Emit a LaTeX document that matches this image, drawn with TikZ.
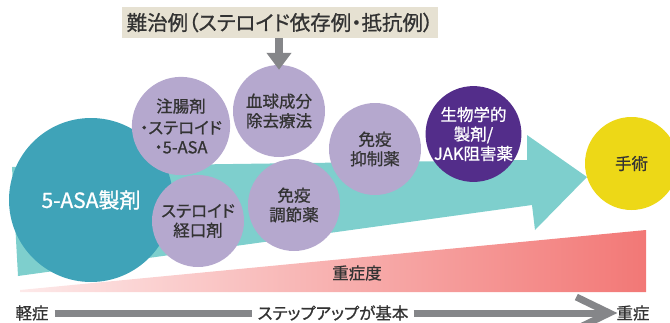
\documentclass[tikz,border=0pt]{standalone}
\usepackage{fontspec}
\setmainfont{Noto Sans CJK JP}[RawFeature=+palt, FakeBold=0.9]
\usetikzlibrary{arrows.meta}

\definecolor{asateal}{HTML}{3FA3B8}
\definecolor{arrowteal}{HTML}{7ECFCD}
\definecolor{lavender}{HTML}{B5A8CE}
\definecolor{bioviolet}{HTML}{532D8A}
\definecolor{opyellow}{HTML}{EDD817}
\definecolor{titlebeige}{HTML}{E6E1D2}
\definecolor{arrowgrey}{HTML}{858689}
\definecolor{txtdark}{HTML}{333333}
\definecolor{pinklight}{HTML}{FDE9E9}
\definecolor{pinkdark}{HTML}{F27876}

\tikzset{
  drug/.style={circle, fill=lavender, minimum size=92pt, inner sep=0pt, align=center,
    text=txtdark, font=\fontsize{16.5}{19.5}\selectfont},
  label/.style={text=txtdark, inner sep=0pt, font=\fontsize{16.5}{19}\selectfont}
}

\begin{document}
\begin{tikzpicture}[x=1pt, y=-1pt]
\useasboundingbox (0,0) rectangle (670,322);
\begin{scope}
\clip (0,0) rectangle (670,322);

% step-up arrow
\fill[arrowteal] (12,167) -- (527,160) -- (527,135) -- (587,177) -- (535,230) -- (532,205) -- (18,276) -- cycle;

% severity wedge
\shade[left color=pinklight, right color=pinkdark] (20,290) -- (646,230) -- (646,292) -- (20,292) -- cycle;
\node[label] (severity) at (357,273) {重症度};

% treatments
\node[circle, fill=asateal, minimum size=164pt, inner sep=0pt, text=white,
  font=\fontsize{21}{24}\selectfont] (asa) at (91,200) {5-ASA製剤};
\node[drug] (enema) at (181,126) {注腸剤\\[2pt]・ステロイド\\・5-ASA};
\node[drug] (oral) at (198,221) {ステロイド\\経口剤};
\node[drug] (apheresis) at (279,111) {血球成分\\除去療法};
\node[drug] (immmod) at (294,205) {免疫\\調節薬};
\node[drug] (immsup) at (375,149) {免疫\\抑制薬};
\node[drug, fill=bioviolet, text=white] (bio) at (473.5,134) {生物学的\\製剤/\\JAK阻害薬};
\node[drug, fill=opyellow, minimum size=93pt] (surgery) at (631.5,163.5) {手術};

% refractory cases
\node[fill=titlebeige, minimum width=316pt, minimum height=31pt, inner sep=0pt,
  text=txtdark, font=\fontsize{20.5}{24}\selectfont] (refractory) at (280,22.5) {難治例（ステロイド依存例・抵抗例）};
\draw[arrowgrey, line width=8pt, -{Triangle[length=17pt, width=24pt]}]
  (refractory.south -| apheresis.north) -- ([yshift=-5pt]apheresis.north);

% mild to severe
\node[label] (mild) at (32,313) {軽症};
\node[label] (stepup) at (333,313) {ステップアップが基本};
\node[label] (severe) at (633,313) {重症};
\draw[arrowgrey, line width=7pt] ([xshift=6pt]mild.east) -- ([xshift=-5pt]stepup.west);
\coordinate (tip) at ([xshift=-7pt]severe.west);
\draw[arrowgrey, line width=7pt] ([xshift=5pt]stepup.east) -- ([xshift=-4pt]tip);
\draw[arrowgrey, line width=7pt] ([xshift=-33pt, yshift=16pt]tip) -- (tip) -- ([xshift=-33pt, yshift=-16pt]tip);
\end{scope}
\end{tikzpicture}
\end{document}
